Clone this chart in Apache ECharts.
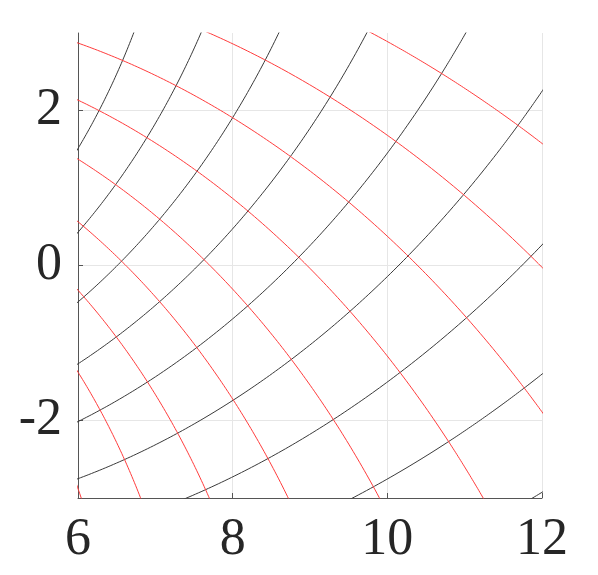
<!DOCTYPE html>
<html>
<head>
<meta charset="utf-8">
<script src="https://cdn.jsdelivr.net/npm/echarts@6/dist/echarts.min.js"></script>
<style>
  html, body { margin: 0; padding: 0; background: #fff; }
  #chart { width: 598px; height: 575px; }
</style>
</head>
<body>
<div id="chart"></div>
<script>
// 轴刻度
const xTicks = [6, 8, 10, 12]
const yTicks = [-2, 0, 2]

// 对数螺线族 ln r - theta = c（黑）与 ln r + theta = c（红），c 值从图上读出
const blackLevels = [1.576, 1.723, 1.873, 2.022, 2.169, 2.317, 2.463, 2.608, 2.753]
const redLevels = [1.448, 1.592, 1.740, 1.890, 2.042, 2.193, 2.341, 2.483, 2.624]

// 沿 theta 追踪一条螺线，sign = +1 为黑线，-1 为红线
const traceSpiral = (c, sign) => {
  const pts = []
  for (let t = -0.55; t <= 0.55; t += 0.002) {
    const r = Math.exp(c + sign * t)
    pts.push([r * Math.cos(t), r * Math.sin(t)])
  }
  return pts
}

const lineSeries = (levels, sign, color) =>
  levels.map((c) => ({
    type: 'line',
    data: traceSpiral(c, sign),
    showSymbol: false,
    silent: true,
    clip: true,
    lineStyle: { color: color, width: 1 },
    animation: false,
  }))

const chart = echarts.init(document.getElementById('chart'))
const labelStyle = {
  color: '#262626',
  fontFamily: 'Liberation Serif',
  fontSize: 52,
}

chart.setOption({
  backgroundColor: '#fff',
  grid: { left: 78, right: 56, top: 33, bottom: 77 },
  xAxis: {
    type: 'value',
    min: 6,
    max: 12,
    interval: 2,
    axisLine: { show: true, onZero: false, lineStyle: { color: '#555', width: 1 } },
    axisTick: { show: true, inside: true, length: 5, customValues: xTicks, lineStyle: { color: '#555' } },
    axisLabel: { ...labelStyle, margin: 16, customValues: xTicks },
    splitLine: { show: true, lineStyle: { color: '#e6e6e6', width: 1 } },
  },
  yAxis: {
    type: 'value',
    min: -3,
    max: 3,
    axisLine: { show: true, onZero: false, lineStyle: { color: '#555', width: 1 } },
    axisTick: { show: true, inside: true, length: 5, customValues: yTicks, lineStyle: { color: '#555' } },
    axisLabel: { ...labelStyle, margin: 16, customValues: yTicks },
    splitLine: { show: true, lineStyle: { color: '#e6e6e6', width: 1 } },
  },
  series: [
    ...lineSeries(blackLevels, 1, '#3a3a3a'),
    ...lineSeries(redLevels, -1, '#ff3c3c'),
  ],
})
</script>
</body>
</html>
